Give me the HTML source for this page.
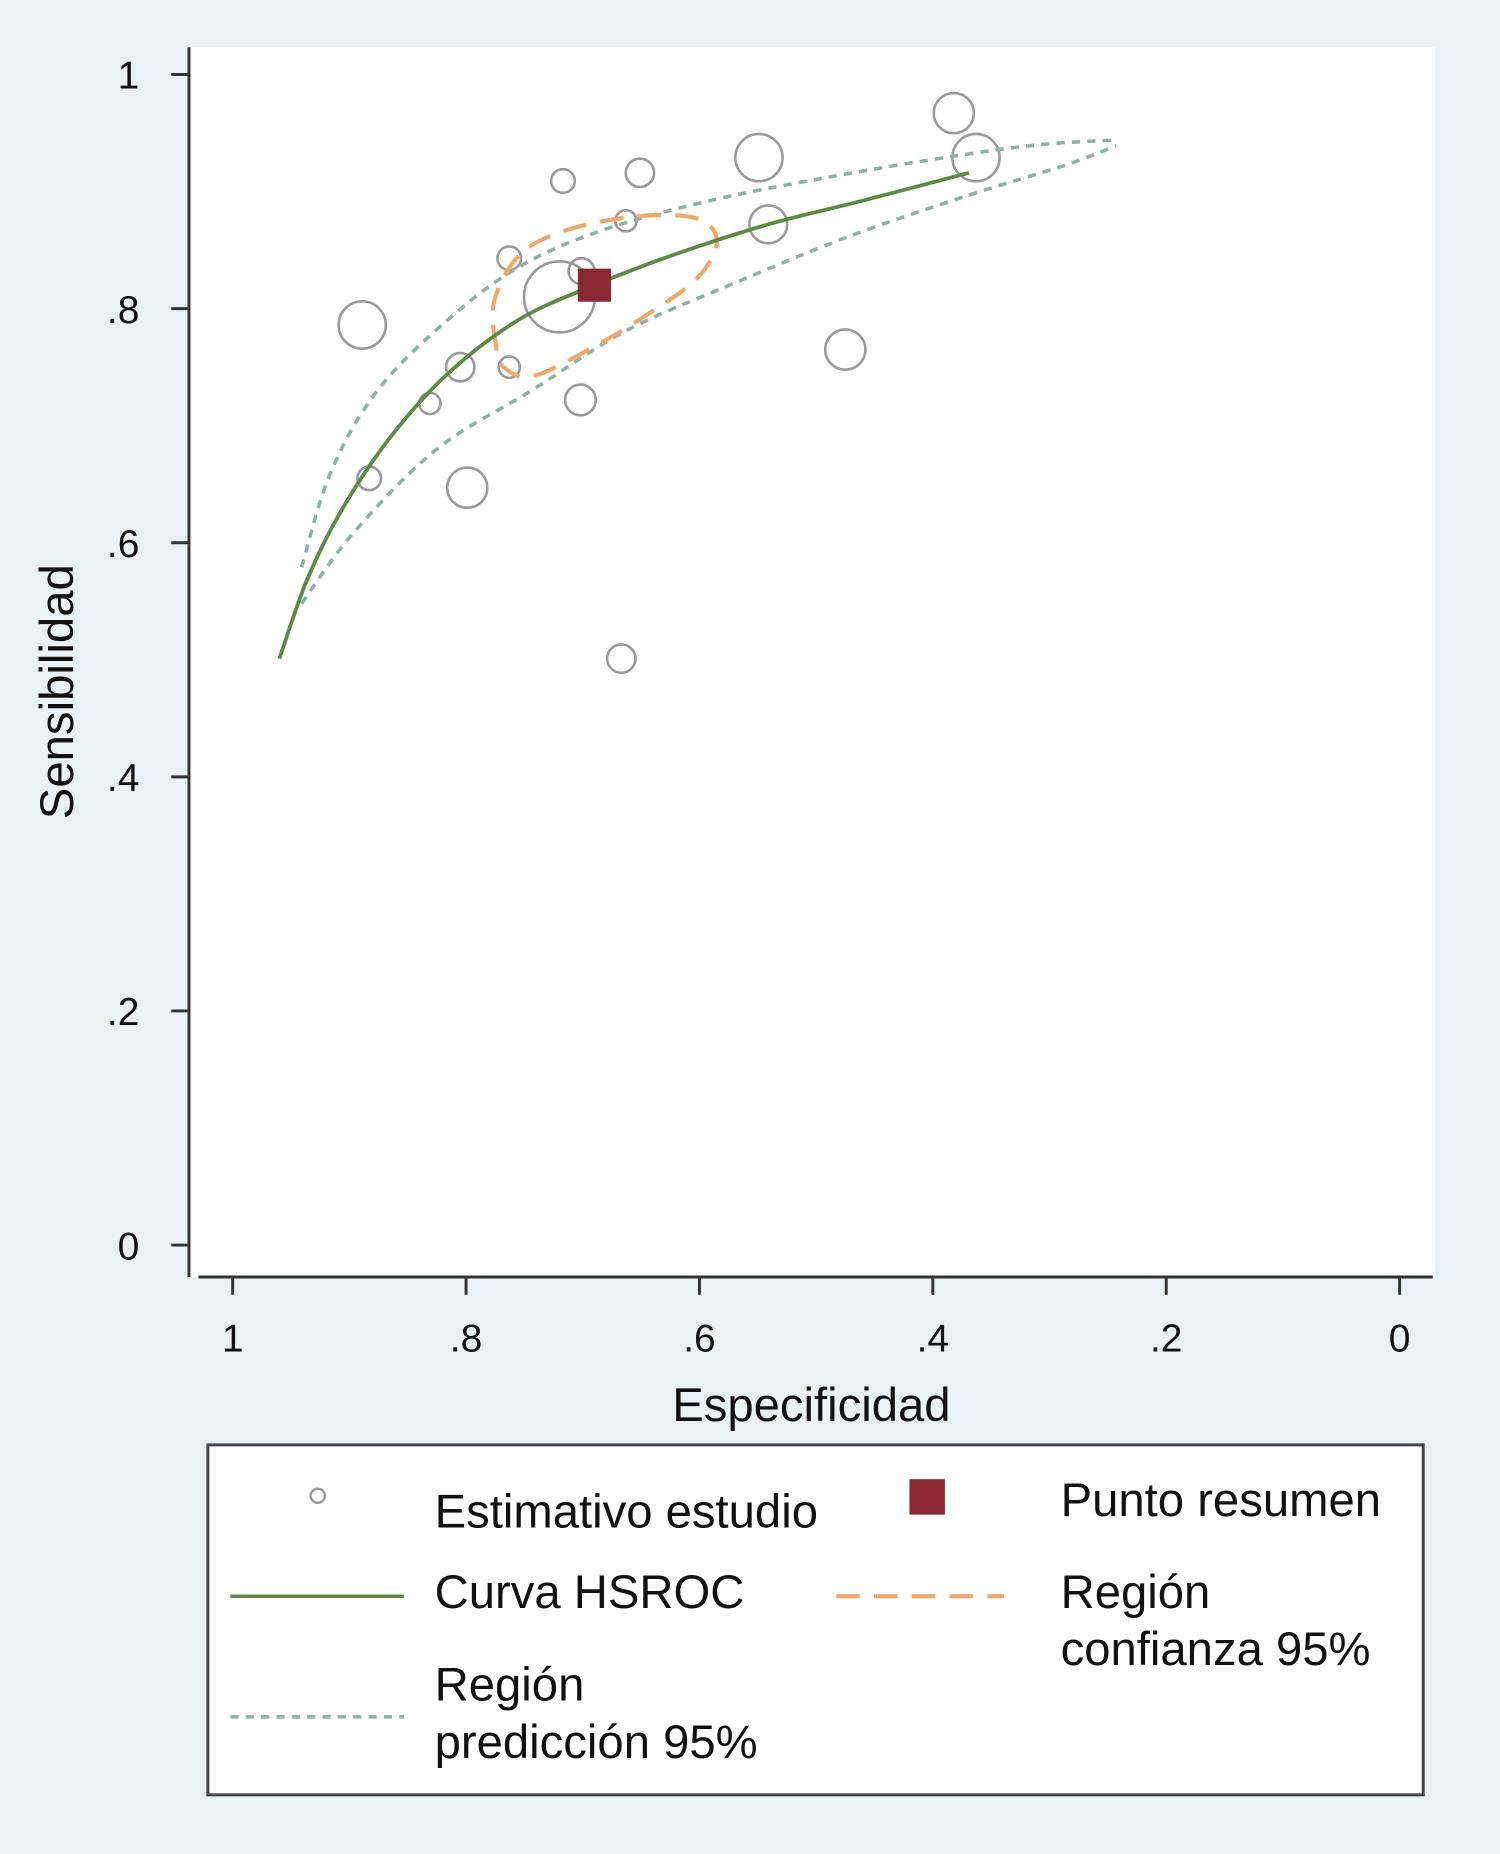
<!DOCTYPE html>
<html><head><meta charset="utf-8"><style>
html,body{margin:0;padding:0;background:#e9f2f5;}
svg{display:block;}
text{font-family:"Liberation Sans",Arial,sans-serif;fill:#111;}
</style></head><body>
<svg id="chart" width="1500" height="1854" viewBox="0 0 1270 1568" preserveAspectRatio="none" xmlns="http://www.w3.org/2000/svg">
<rect x="0" y="0" width="1270" height="1568" fill="#e9f2f5"/>
<rect x="160" y="40" width="1055" height="1040" fill="#ffffff"/>
<line x1="160" y1="40" x2="160" y2="1080" stroke="#333" stroke-width="2.5"/>
<line x1="168" y1="1080" x2="1213" y2="1080" stroke="#333" stroke-width="2.5"/>
<g id="yticks"></g><g id="xticks"></g>
<text transform="translate(62,585) rotate(-90)" text-anchor="middle" font-size="40">Sensibilidad</text>
<text x="687" y="1202" text-anchor="middle" font-size="40">Especificidad</text>
<g id="marks"></g>
<g>
<rect x="176" y="1222" width="1029" height="296" fill="#fff" stroke="#444" stroke-width="2.5"/>
<circle cx="269" cy="1265" r="6" fill="none" stroke="#999" stroke-width="2"/>
<text x="368" y="1292" font-size="40">Estimativo estudio</text>
<rect x="770" y="1251" width="30" height="30" fill="#8b2832"/>
<text x="898" y="1282" font-size="40">Punto resumen</text>
<line x1="195" y1="1350" x2="342" y2="1350" stroke="#5d8a45" stroke-width="3"/>
<text x="368" y="1360" font-size="40">Curva HSROC</text>
<line x1="708" y1="1350" x2="850" y2="1350" stroke="#f0a868" stroke-width="3.5" stroke-dasharray="20,12"/>
<text x="898" y="1360" font-size="40">Región</text>
<text x="898" y="1408" font-size="40">confianza 95%</text>
<line x1="195" y1="1452" x2="342" y2="1452" stroke="#8fb0a8" stroke-width="3" stroke-dasharray="7,6"/>
<text x="368" y="1438" font-size="40">Región</text>
<text x="368" y="1487" font-size="40">predicción 95%</text>
</g>
</svg>
<script>
const tickValues = [0, 0.2, 0.4, 0.6, 0.8, 1];
const tickLabels = ["0", ".2", ".4", ".6", ".8", "1"];
const studySpec = [0.889,0.883,0.831,0.805,0.799,0.763,0.763,0.720,0.717,0.701,0.702,0.663,0.651,0.667,0.549,0.541,0.475,0.382,0.363];
const studySens = [0.786,0.655,0.719,0.750,0.647,0.843,0.750,0.810,0.909,0.832,0.722,0.875,0.916,0.501,0.929,0.872,0.765,0.967,0.929];
const studyWeight = [20,10,9,12,17,10,9,30,10,11,13,9,12,12,20,16,17,17,20];
const summarySpec = [0.690];
const summarySens = [0.820];
const hsrocSpec = [0.960,0.936,0.906,0.865,0.815,0.754,0.690,0.622,0.541,0.461,0.369];
const hsrocSens = [0.501,0.569,0.629,0.690,0.745,0.791,0.820,0.846,0.872,0.892,0.916];
const predUpperSpec = [0.941,0.916,0.876,0.815,0.754,0.683,0.592,0.491,0.390,0.309,0.243];
const predUpperSens = [0.579,0.660,0.730,0.791,0.836,0.867,0.892,0.912,0.929,0.940,0.944];
const predLowerSpec = [0.941,0.896,0.825,0.744,0.663,0.572,0.471,0.369,0.288,0.243];
const predLowerSens = [0.548,0.609,0.680,0.730,0.781,0.821,0.862,0.897,0.922,0.939];
const confSpec = [0.774,0.776,0.754,0.714,0.653,0.602,0.585,0.602,0.643,0.693,0.744,0.769];
const confSens = [0.766,0.806,0.846,0.867,0.879,0.877,0.857,0.826,0.796,0.766,0.742,0.751];

const NS='http://www.w3.org/2000/svg';
const xs = v => 1185 - v*988;
const ys = v => 1053 - v*990;
function mk(tag, attrs, parent){const e=document.createElementNS(NS,tag);for(const k in attrs)e.setAttribute(k,attrs[k]);parent.appendChild(e);return e;}
function smooth(px,py,closed){
  const n=px.length;let d='M'+px[0]+','+py[0];
  const g=i=>closed?(i+n)%n:Math.max(0,Math.min(n-1,i));
  const last=closed?n:n-1;
  for(let i=0;i<last;i++){
    const p0=g(i-1),p1=g(i),p2=g(i+1),p3=g(i+2);
    const c1x=px[p1]+(px[p2]-px[p0])/6,c1y=py[p1]+(py[p2]-py[p0])/6;
    const c2x=px[p2]-(px[p3]-px[p1])/6,c2y=py[p2]-(py[p3]-py[p1])/6;
    d+=' C'+c1x+','+c1y+' '+c2x+','+c2y+' '+px[p2]+','+py[p2];
  }
  return d+(closed?'Z':'');
}
const yt=document.getElementById('yticks'), xt=document.getElementById('xticks'), marks=document.getElementById('marks');
tickValues.forEach((v,i)=>{
  const l=mk('line',{x1:145,x2:160,y1:ys(v),y2:ys(v),stroke:'#333','stroke-width':2.5},yt);
  
  
  const t=mk('text',{x:118,y:ys(v)+12,'text-anchor':'end','font-size':33},yt);t.textContent=tickLabels[i];
  
  
  const l2=mk('line',{x1:xs(v),x2:xs(v),y1:1080,y2:1095,stroke:'#333','stroke-width':2.5},xt);
  
  
  const t2=mk('text',{x:xs(v),y:1143,'text-anchor':'middle','font-size':33},xt);t2.textContent=tickLabels[i];
  
  
});
studySpec.forEach((s,i)=>{
  const c=mk('circle',{cx:xs(s),cy:ys(studySens[i]),r:studyWeight[i],fill:'none',stroke:'#9a9a9a','stroke-width':2.2},marks);
  
  
});
const pu=mk('path',{d:smooth(predUpperSpec.map(xs),predUpperSens.map(ys),false),fill:'none',stroke:'#8fb0a8','stroke-width':3,'stroke-dasharray':'7,6'},marks);


const pl=mk('path',{d:smooth(predLowerSpec.map(xs),predLowerSens.map(ys),false),fill:'none',stroke:'#8fb0a8','stroke-width':3,'stroke-dasharray':'7,6'},marks);


const cf=mk('path',{d:smooth(confSpec.map(xs),confSens.map(ys),true),fill:'none',stroke:'#f0a868','stroke-width':3.5,'stroke-dasharray':'20,12'},marks);


const hc=mk('path',{d:smooth(hsrocSpec.map(xs),hsrocSens.map(ys),false),fill:'none',stroke:'#5d8a45','stroke-width':3.2},marks);


summarySpec.forEach((s,i)=>{
  const r=mk('rect',{x:xs(s)-14,y:ys(summarySens[i])-14,width:28,height:28,fill:'#8b2832'},marks);
  
  
});
</script>
</body></html>
